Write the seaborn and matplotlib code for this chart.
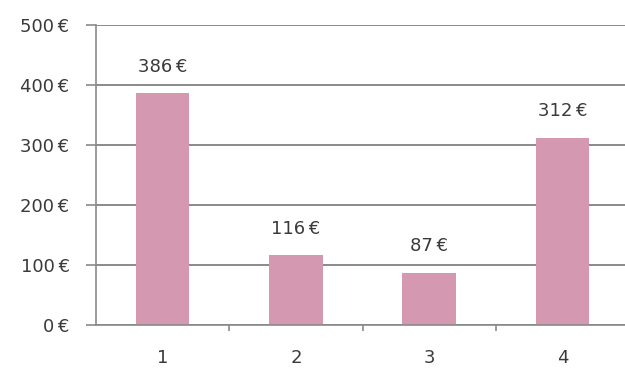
import matplotlib
matplotlib.use("Agg")
import matplotlib.pyplot as plt
import seaborn as sns
import pandas as pd

categories = ["1", "2", "3", "4"]
values = [386, 116, 87, 312]
y_ticks = [0, 100, 200, 300, 400, 500]

sns.set_theme(style="white")
plt.rcParams["font.family"] = ["DejaVu Sans"]

df = pd.DataFrame({"cat": categories, "val": values})

fig = plt.figure(figsize=(6.25, 3.73), dpi=100)
ax = fig.add_axes([96 / 625, 48 / 373, 533 / 625, 300 / 373])

grid_c = "#8a8a8a"
text_c = "#3a3a3a"
fs = 13

def euro(v):
    return f"{v}\u2009€"

sns.barplot(data=df, x="cat", y="val", color="#d499b0", saturation=1,
            width=0.4, ax=ax, edgecolor="none")

ax.set_xlim(-0.5, 3.5)
ax.set_ylim(0, 500)
ax.set_yticks(y_ticks)
ax.set_yticklabels([euro(v) for v in y_ticks], color=text_c, fontsize=fs)
ax.set_xticks([0, 1, 2, 3])
ax.set_xticklabels(categories, color=text_c, fontsize=fs)
ax.set_xlabel("")
ax.set_ylabel("")

ax.set_axisbelow(True)
ax.yaxis.grid(True, color=grid_c, linewidth=1.4)
ax.xaxis.grid(False)

for side in ["top", "right"]:
    ax.spines[side].set_visible(False)
for side in ["left", "bottom"]:
    ax.spines[side].set_color(grid_c)
    ax.spines[side].set_linewidth(1.2)

ax.tick_params(axis="y", which="major", length=7, width=1.2, color=grid_c,
               direction="out", pad=12, left=True)
# category-boundary ticks on the x axis, labels centred on the bars
ax.set_xticks([0.5, 1.5, 2.5], minor=True)
ax.tick_params(axis="x", which="major", length=0, pad=17)
ax.tick_params(axis="x", which="minor", length=4.5, width=1.2, color=grid_c,
               direction="out", bottom=True)

for i, v in enumerate(values):
    ax.text(i, v + 44, euro(v), ha="center", va="center",
            color=text_c, fontsize=fs)

fig.savefig("out.png", dpi=100, facecolor="white")
